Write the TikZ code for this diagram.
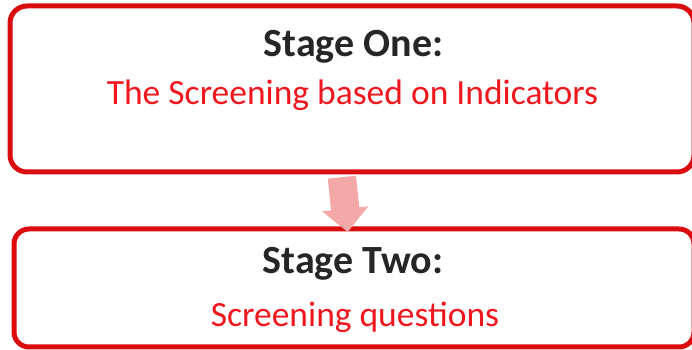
\documentclass[tikz,border=0pt]{standalone}
\usepackage{fontspec}
\setmainfont{Carlito}
\usetikzlibrary{shapes.arrows}
\definecolor{boxred}{RGB}{218,12,14}
\definecolor{txtred}{RGB}{240,22,30}
\definecolor{txtgrey}{RGB}{38,38,38}
\definecolor{arrowpink}{RGB}{244,168,168}
\tikzset{
  stagebox/.style={draw=boxred, line width=5pt, inner sep=0pt},
  title/.style={anchor=base, text=txtgrey, font=\fontsize{40}{46}\selectfont\bfseries},
  sub/.style={anchor=base, text=txtred, font=\fontsize{35.5}{42}\selectfont},
}

\begin{document}
\begin{tikzpicture}[x=1pt,y=1pt]
\useasboundingbox (0,0) rectangle (692,350);

% the two stages
\node[stagebox, rounded corners=17pt, minimum width=684pt, minimum height=166pt] (one) at (352,261) {};
\node[stagebox, rounded corners=15pt, minimum width=680pt, minimum height=118pt] (two) at (354,62) {};

\node[title] (onetitle) at (353.5,293) {Stage One:};
\node[sub] (onetext) at (352.5,245) {The Screening based on Indicators};
\node[title] (twotitle) at (353,76) {Stage Two:};
\node[sub] (twotext) at (355,23) {Screening questions};

% arrow between them
\node[single arrow, fill=arrowpink, inner xsep=0pt, inner ysep=14pt,
  single arrow head extend=9pt, minimum height=55pt, rotate=-84] (flow) at (344,152.5) {};
\end{tikzpicture}
\end{document}
